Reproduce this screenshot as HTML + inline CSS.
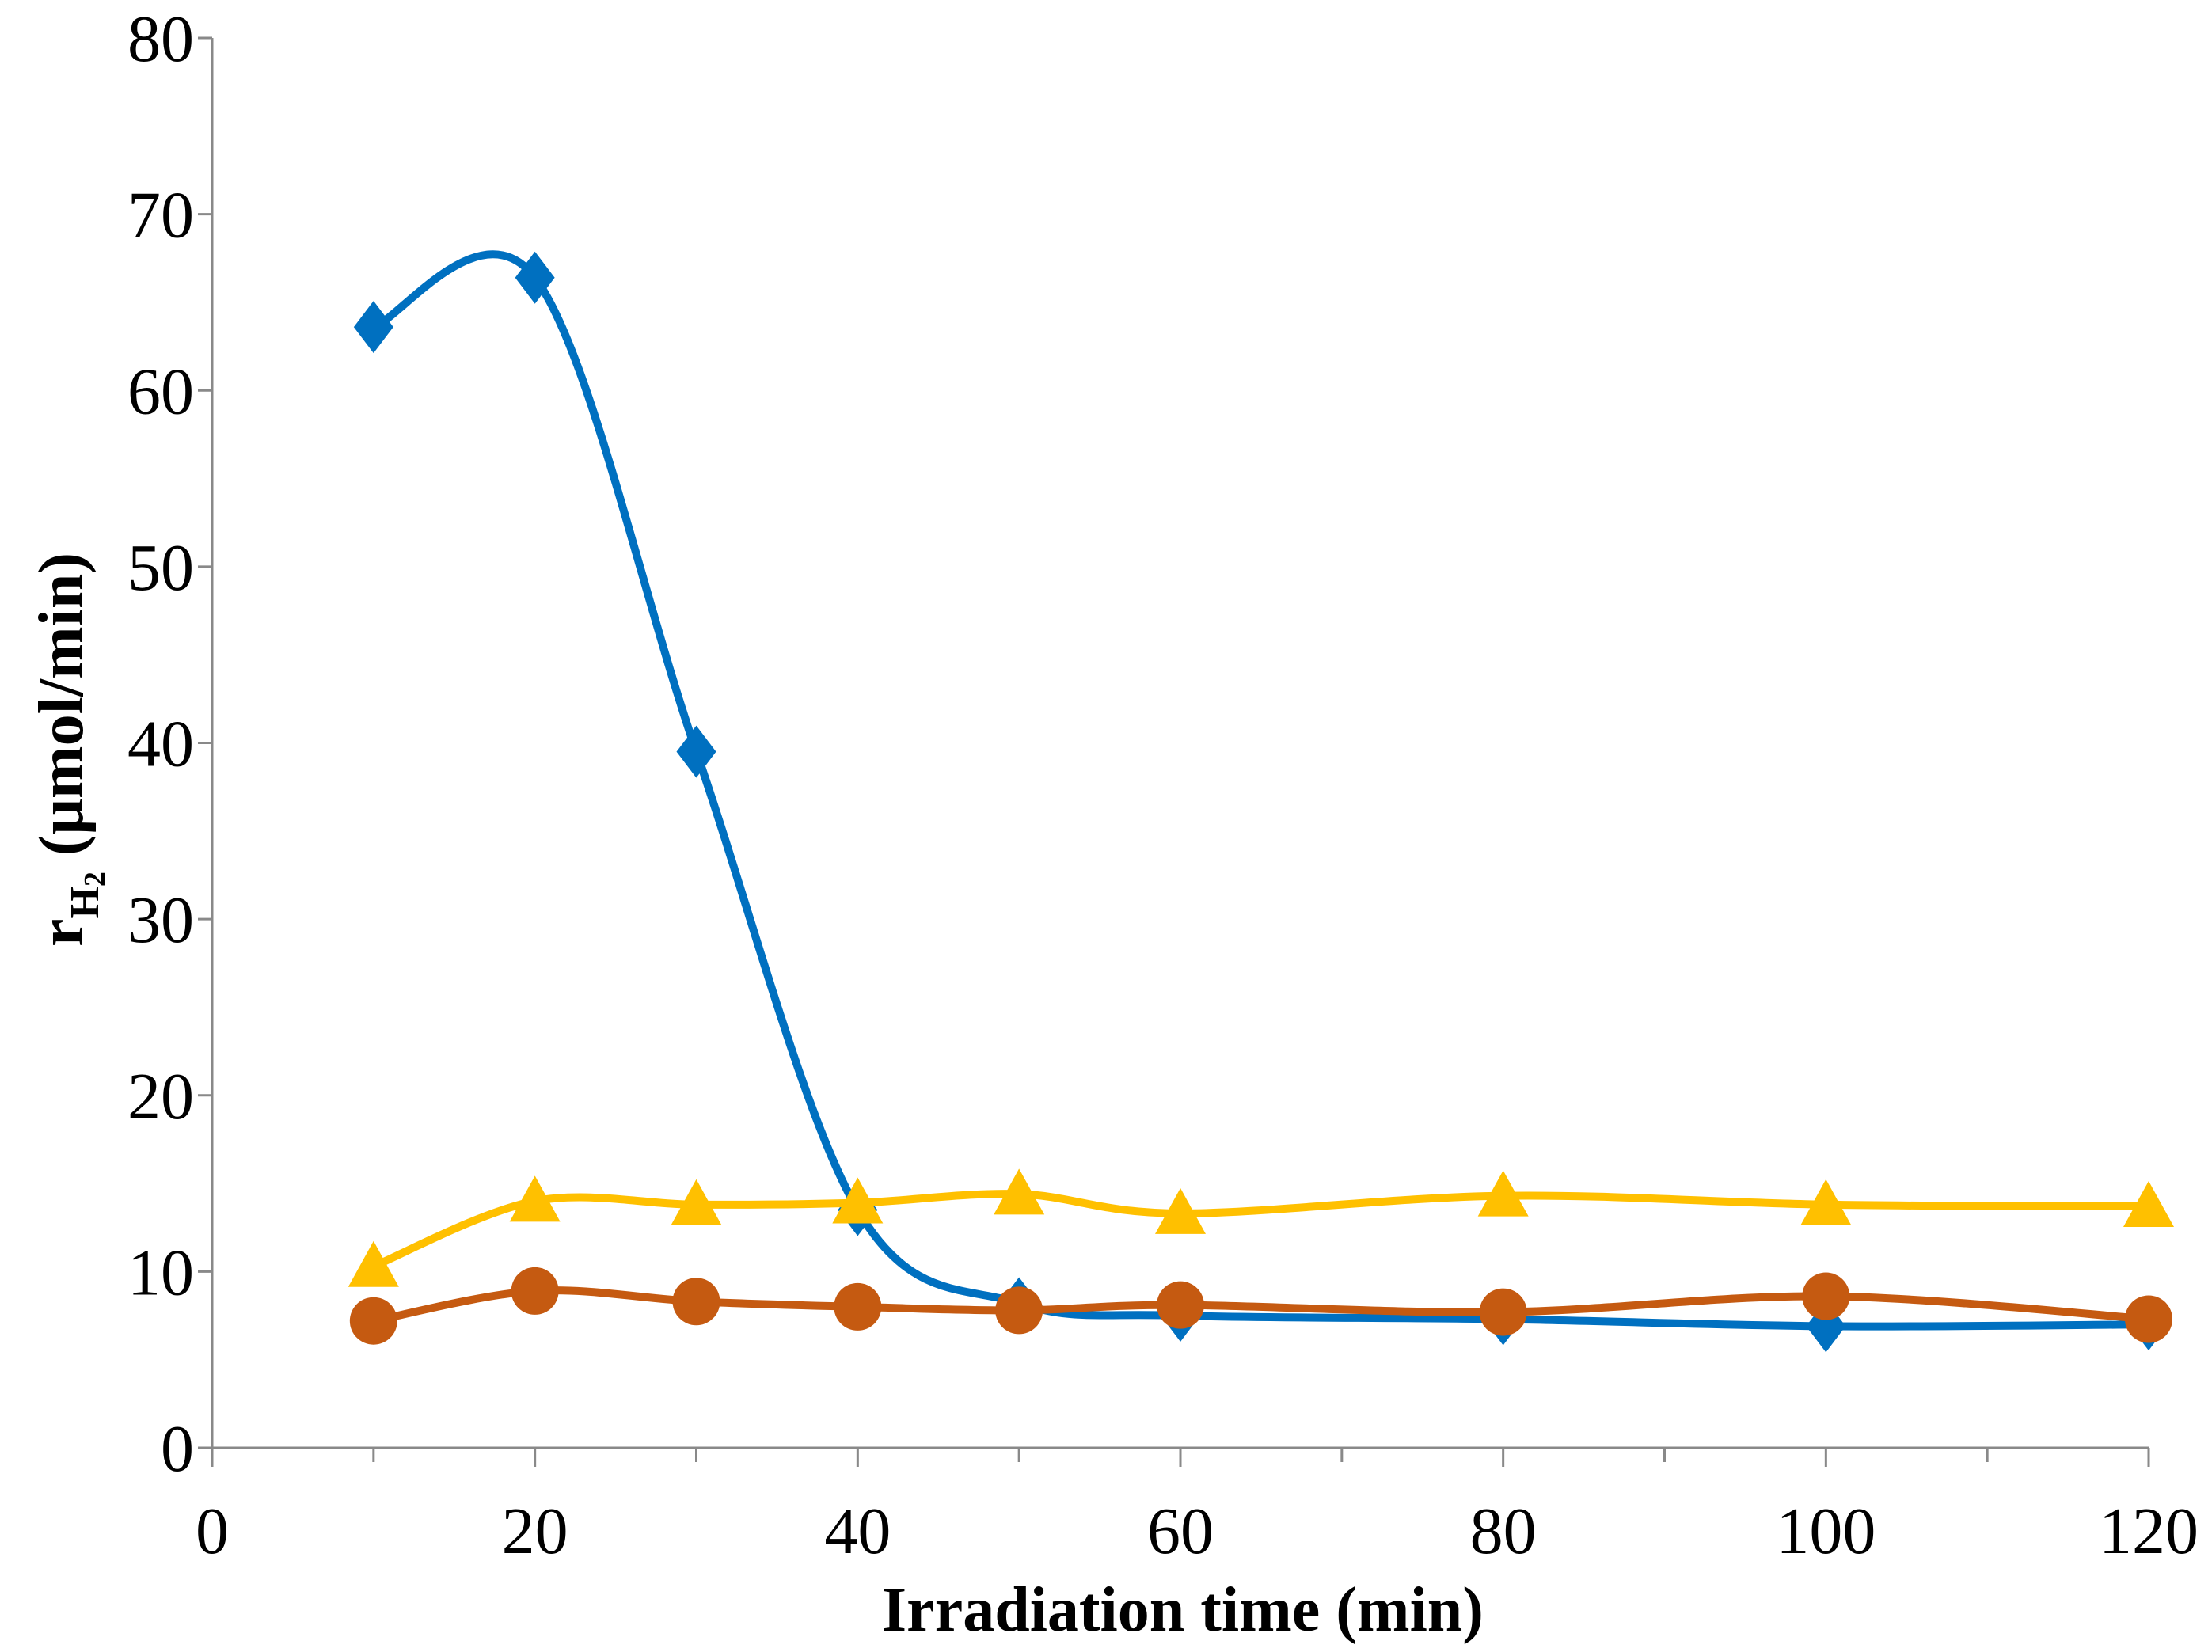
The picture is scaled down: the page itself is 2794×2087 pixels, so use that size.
<!DOCTYPE html>
<html><head><meta charset="utf-8"><style>
html,body{margin:0;padding:0;background:#fff}
svg{display:block}
text{font-family:"Liberation Serif",serif;fill:#000}
</style></head><body>
<svg id="chart" width="2794" height="2087" viewBox="0 0 2794 2087" xmlns="http://www.w3.org/2000/svg">
<g id="axes"></g>
<g id="series"></g>
<text x="1494" y="2060" text-anchor="middle" font-size="80" font-weight="bold">Irradiation time (min)</text>
<text transform="translate(104,947) rotate(-90)" text-anchor="middle" font-size="80" font-weight="bold">r<tspan font-size="52" dy="20">H</tspan><tspan font-size="38" dy="8">2</tspan><tspan dy="-28"> (μmol/min)</tspan></text>
</svg>
<script>
const xValues=[10,20,30,40,50,60,80,100,120];
const blueValues=[63.6,66.4,39.5,13.5,8.2,7.5,7.3,6.9,7.0];
const yellowValues=[10.3,14.0,13.8,13.9,14.4,13.3,14.3,13.8,13.7];
const orangeValues=[7.2,8.9,8.3,8.0,7.8,8.1,7.7,8.6,7.3];
const xTicks=[0,20,40,60,80,100,120];
const yTicks=[0,10,20,30,40,50,60,70,80];

const NS="http://www.w3.org/2000/svg";
const X0=268,X1=2714,Y0=1829,Y1=48;
const sx=v=>X0+(v-0)/120*(X1-X0);
const sy=v=>Y0-(v-0)/80*(Y0-Y1);
function mk(tag,attrs,parent){const e=document.createElementNS(NS,tag);for(const k in attrs)e.setAttribute(k,attrs[k]);parent.appendChild(e);return e;}
const axes=document.getElementById('axes');
const AX="#898989";
let l=mk('line',{x1:X0,y1:Y1,x2:X0,y2:Y0,stroke:AX,'stroke-width':3},axes);


l=mk('line',{x1:X0-18,y1:Y0,x2:X1,y2:Y0,stroke:AX,'stroke-width':3},axes);


yTicks.forEach(v=>{
  const t=mk('line',{x1:X0-18,y1:sy(v),x2:X0,y2:sy(v),stroke:AX,'stroke-width':3},axes);
  
  
  const tx=mk('text',{x:245,y:sy(v)+29,'text-anchor':'end','font-size':84},axes);
  
  
  tx.textContent=v;
});
for(let v=0;v<=120;v+=10){
  const major=v%20===0;
  const t=mk('line',{x1:sx(v),y1:Y0,x2:sx(v),y2:Y0+(major?24:18),stroke:AX,'stroke-width':3},axes);
  
  
}
xTicks.forEach(v=>{
  const tx=mk('text',{x:sx(v),y:1962,'text-anchor':'middle','font-size':84},axes);
  
  
  tx.textContent=v;
});
function spline(pts){
  let d=`M${pts[0][0]},${pts[0][1]}`;
  for(let i=0;i<pts.length-1;i++){
    const p0=pts[Math.max(0,i-1)],p1=pts[i],p2=pts[i+1],p3=pts[Math.min(pts.length-1,i+2)];
    const c1=[p1[0]+(p2[0]-p0[0])/6,p1[1]+(p2[1]-p0[1])/6];
    const c2=[p2[0]-(p3[0]-p1[0])/6,p2[1]-(p3[1]-p1[1])/6];
    d+=` C${c1[0]},${c1[1]} ${c2[0]},${c2[1]} ${p2[0]},${p2[1]}`;
  }
  return d;
}
const sg=document.getElementById('series');
function draw(vals,color,name,marker){
  const g=mk('g',{},sg);
  
  
  const pts=xValues.map((x,i)=>[sx(x),sy(vals[i])]);
  const p=mk('path',{d:spline(pts),fill:'none',stroke:color,'stroke-width':10},g);
  
  
  pts.forEach(([x,y])=>{
    let m;
    if(marker==='diamond') m=mk('polygon',{points:`${x},${y-33} ${x+25},${y} ${x},${y+33} ${x-25},${y}`,fill:color},g);
    else if(marker==='circle') m=mk('circle',{cx:x,cy:y,r:30,fill:color},g);
    else m=mk('polygon',{points:`${x},${y-32} ${x+32},${y+26} ${x-32},${y+26}`,fill:color},g);
    
    
  });
}
draw(blueValues,'#0070c0','blue','diamond');
draw(yellowValues,'#ffc000','yellow','triangle');
draw(orangeValues,'#c55a11','orange','circle');
</script>
</body></html>
